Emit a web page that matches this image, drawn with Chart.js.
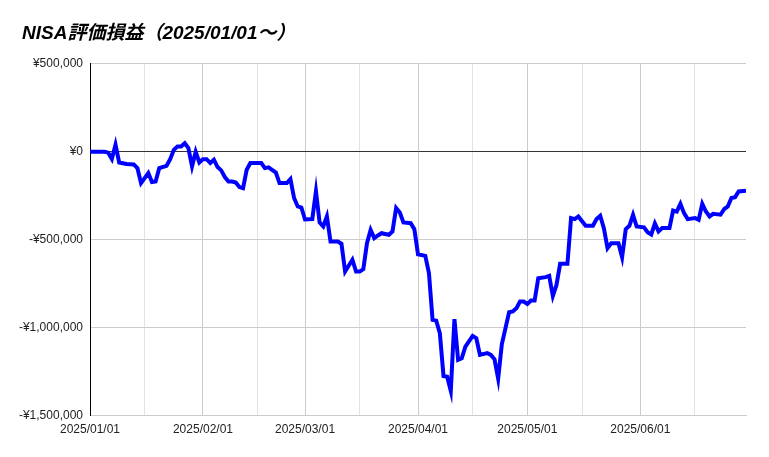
<!DOCTYPE html>
<html>
<head>
<meta charset="utf-8">
<script src="https://cdn.jsdelivr.net/npm/chart.js@4.4.1/dist/chart.umd.min.js"></script>
<style>
  html, body { margin: 0; padding: 0; background: #fff; }
  #wrap { width: 769px; height: 457px; position: relative; }
</style>
</head>
<body>
<div id="wrap"><canvas id="chart"></canvas></div>
<script>
// NISA評価損益 (yen)
const dates = [
  '2025/01/01', '2025/01/05', '2025/01/06', '2025/01/07', '2025/01/08', '2025/01/09',
  '2025/01/10', '2025/01/11', '2025/01/13', '2025/01/14', '2025/01/15', '2025/01/17',
  '2025/01/18', '2025/01/19', '2025/01/20', '2025/01/22', '2025/01/23', '2025/01/24',
  '2025/01/25', '2025/01/26', '2025/01/27', '2025/01/28', '2025/01/29', '2025/01/30',
  '2025/01/31', '2025/02/01', '2025/02/02', '2025/02/03', '2025/02/04', '2025/02/05',
  '2025/02/06', '2025/02/07', '2025/02/08', '2025/02/09', '2025/02/10', '2025/02/11',
  '2025/02/12', '2025/02/13', '2025/02/14', '2025/02/15', '2025/02/17', '2025/02/18',
  '2025/02/19', '2025/02/21', '2025/02/22', '2025/02/24', '2025/02/25', '2025/02/26',
  '2025/02/27', '2025/02/28', '2025/03/01', '2025/03/03', '2025/03/04', '2025/03/05',
  '2025/03/06', '2025/03/07', '2025/03/08', '2025/03/10', '2025/03/11', '2025/03/12',
  '2025/03/14', '2025/03/15', '2025/03/16', '2025/03/17', '2025/03/18', '2025/03/19',
  '2025/03/20', '2025/03/21', '2025/03/22', '2025/03/24', '2025/03/25', '2025/03/26',
  '2025/03/27', '2025/03/28', '2025/03/30', '2025/03/31', '2025/04/01', '2025/04/03',
  '2025/04/04', '2025/04/05', '2025/04/06', '2025/04/07', '2025/04/08', '2025/04/09',
  '2025/04/10', '2025/04/11', '2025/04/12', '2025/04/13', '2025/04/14', '2025/04/16',
  '2025/04/17', '2025/04/18', '2025/04/20', '2025/04/21', '2025/04/22', '2025/04/23',
  '2025/04/24', '2025/04/26', '2025/04/27', '2025/04/28', '2025/04/29', '2025/04/30',
  '2025/05/01', '2025/05/02', '2025/05/03', '2025/05/04', '2025/05/06', '2025/05/07',
  '2025/05/08', '2025/05/09', '2025/05/10', '2025/05/12', '2025/05/13', '2025/05/14',
  '2025/05/15', '2025/05/17', '2025/05/19', '2025/05/20', '2025/05/21', '2025/05/22',
  '2025/05/23', '2025/05/24', '2025/05/26', '2025/05/27', '2025/05/28', '2025/05/29',
  '2025/05/30', '2025/05/31', '2025/06/02', '2025/06/03', '2025/06/04', '2025/06/05',
  '2025/06/06', '2025/06/07', '2025/06/09', '2025/06/10', '2025/06/11', '2025/06/12',
  '2025/06/13', '2025/06/14', '2025/06/16', '2025/06/17', '2025/06/18', '2025/06/19',
  '2025/06/20', '2025/06/21', '2025/06/23', '2025/06/24', '2025/06/25', '2025/06/26',
  '2025/06/27', '2025/06/28', '2025/06/30'
];
const profit = [
  0, 0, -5000, -41000, 40000, -61000,
  -65000, -70000, -72000, -93000, -178000, -121000,
  -172000, -169000, -93000, -80000, -42000, 11000,
  30000, 30000, 49000, 21000, -83000, 0,
  -61000, -42000, -42000, -64000, -45000, -87000,
  -106000, -144000, -169000, -169000, -175000, -201000,
  -207000, -102000, -64000, -64000, -64000, -93000,
  -89000, -118000, -178000, -178000, -155000, -263000,
  -311000, -317000, -385000, -383000, -225000, -402000,
  -425000, -368000, -510000, -510000, -523000, -681000,
  -614000, -681000, -681000, -667000, -520000, -444000,
  -491000, -476000, -463000, -472000, -453000, -320000,
  -345000, -402000, -406000, -440000, -583000, -592000,
  -690000, -956000, -960000, -1032000, -1275000, -1279000,
  -1360000, -952000, -1183000, -1174000, -1108000, -1047000,
  -1060000, -1155000, -1145000, -1155000, -1180000, -1290000,
  -1095000, -912000, -908000, -889000, -852000, -852000,
  -865000, -846000, -846000, -719000, -713000, -706000,
  -820000, -757000, -637000, -637000, -377000, -383000,
  -368000, -421000, -421000, -383000, -364000, -434000,
  -548000, -520000, -520000, -600000, -440000, -421000,
  -358000, -425000, -430000, -458000, -470000, -408000,
  -453000, -434000, -434000, -334000, -340000, -296000,
  -349000, -383000, -377000, -387000, -296000, -340000,
  -368000, -353000, -358000, -326000, -311000, -263000,
  -258000, -226000, -222000
];
const monthTicks = ['2025/01/01', '2025/02/01', '2025/03/01', '2025/04/01', '2025/05/01', '2025/06/01'];
const midTicks = ['2025/01/16', '2025/02/16', '2025/03/16', '2025/04/16', '2025/05/16', '2025/06/16'];
const endDate = '2025/06/30';

const DAY = 86400000;
const start = Date.UTC(2025, 0, 1);
function dayOf(s) {
  const p = s.split('/').map(Number);
  return Math.round((Date.UTC(p[0], p[1] - 1, p[2]) - start) / DAY);
}

const points = dates.map((d, i) => ({ x: dayOf(d), y: profit[i] }));
const monthDays = monthTicks.map(dayOf);
const allTicks = monthTicks.concat(midTicks).map(dayOf).sort((a, b) => a - b);

function yen(v) {
  const s = '¥' + Math.abs(v).toLocaleString('en-US');
  return v < 0 ? '-' + s : s;
}

const font = '"Liberation Sans", Arial, "Noto Sans CJK JP", sans-serif';

// nudge the title a few px right of the y-axis labels
const titleShift = {
  id: 'titleShift',
  afterLayout(chart) {
    if (chart.titleBlock) {
      chart.titleBlock.left += 4;
      chart.titleBlock.right += 4;
    }
  }
};

new Chart(document.getElementById('chart'), {
  type: 'line',
  data: {
    datasets: [{
      data: points,
      borderColor: '#0000ff',
      borderWidth: 4,
      pointRadius: 0,
      tension: 0,
      fill: false
    }]
  },
  options: {
    responsive: true,
    maintainAspectRatio: false,
    animation: false,
    layout: { padding: { left: 18, right: 23, top: 0, bottom: 13 } },
    plugins: {
      legend: { display: false },
      tooltip: { enabled: false },
      title: {
        display: true,
        text: 'NISA評価損益（2025/01/01～）',
        align: 'start',
        color: '#000',
        font: { family: font, size: 19, weight: 'bold', style: 'italic' },
        padding: { top: 22, bottom: 19 }
      }
    },
    scales: {
      x: {
        type: 'linear',
        min: 0,
        max: dayOf(endDate),
        afterBuildTicks: (scale) => {
          scale.ticks = allTicks.map(v => ({ value: v }));
        },
        ticks: {
          autoSkip: false,
          maxRotation: 0,
          padding: 7,
          color: '#222',
          font: { family: font, size: 12 },
          callback: (v) => {
            const i = monthDays.indexOf(v);
            return i >= 0 ? monthTicks[i] : '';
          }
        },
        grid: {
          drawTicks: false,
          color: (ctx) => monthDays.includes(ctx.tick && ctx.tick.value) ? '#cccccc' : '#e3e3e3'
        },
        border: { color: '#cccccc' }
      },
      y: {
        min: -1500000,
        max: 500000,
        afterFit: (scale) => { scale.width = 72; },
        ticks: {
          stepSize: 500000,
          padding: 7,
          color: '#222',
          font: { family: font, size: 12 },
          callback: (v) => yen(v)
        },
        grid: {
          drawTicks: false,
          color: (ctx) => ctx.tick && ctx.tick.value === 0 ? '#333333' : '#cccccc'
        },
        border: { color: '#000000' }
      }
    }
  },
  plugins: [titleShift]
});
</script>
</body>
</html>
